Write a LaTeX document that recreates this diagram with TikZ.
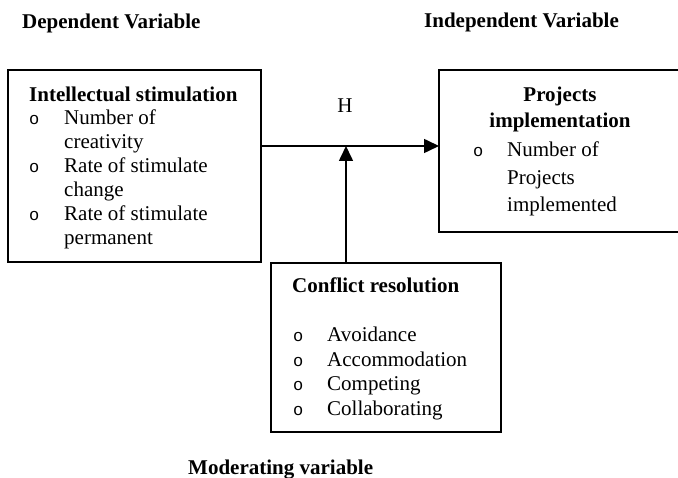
\documentclass[tikz,border=0pt]{standalone}
\usepackage{fontspec}
\setmainfont{Liberation Serif}
\newfontfamily\bulletfont{Liberation Mono}
\usetikzlibrary{arrows.meta}
\tikzset{
  box/.style={draw, line width=1.6pt, inner sep=0pt, outer sep=0pt},
  txt/.style={anchor=base west, inner sep=0pt, font=\fontsize{21}{24}\selectfont},
  btxt/.style={txt, font=\fontsize{21}{24}\selectfont\bfseries},
  bul/.style={anchor=base west, inner sep=0pt, font=\fontsize{17}{20}\bulletfont},
  arr/.style={line width=1.6pt, -{Triangle[length=15pt,width=14pt]}}
}
\begin{document}
\begin{tikzpicture}[x=1pt,y=-1pt]
\useasboundingbox (0,0) rectangle (678,478);
% headings
\node[btxt] (dep) at (22,29) {Dependent Variable};
\node[btxt] (indep) at (424,28) {Independent Variable};
\node[btxt] (mod) at (188,475) {Moderating variable};
% boxes
\node[box, minimum width=253pt, minimum height=192pt] (left) at (134.5,166) {};
\node[box, minimum width=250pt, minimum height=162pt] (right) at (564,151) {};
\node[box, minimum width=230pt, minimum height=169pt] (bottom) at (386,347.5) {};
% left box text
\node[btxt] (l0) at (29,102) {Intellectual stimulation};
\node[bul] (lb1) at (29,125) {o};
\node[txt] (l1) at (64,125) {Number of};
\node[txt] (l2) at (64,149) {creativity};
\node[bul] (lb2) at (29,173) {o};
\node[txt] (l3) at (64,173) {Rate of stimulate};
\node[txt] (l4) at (64,197) {change};
\node[bul] (lb3) at (29,221) {o};
\node[txt] (l5) at (64,221) {Rate of stimulate};
\node[txt] (l6) at (64,245) {permanent};
% right box text
\node[btxt, anchor=base] (r0) at (560,102) {Projects};
\node[btxt, anchor=base] (r1) at (560,128) {implementation};
\node[bul] (rb1) at (473,157) {o};
\node[txt] (r2) at (507,157) {Number of};
\node[txt] (r3) at (507,185) {Projects};
\node[txt] (r4) at (507,212) {implemented};
% bottom box text
\node[btxt] (b0) at (292,293) {Conflict resolution};
\node[bul] (bb1) at (293,342) {o};
\node[txt] (b1) at (327,342) {Avoidance};
\node[bul] (bb2) at (293,367) {o};
\node[txt] (b2) at (327,367) {Accommodation};
\node[bul] (bb3) at (293,391) {o};
\node[txt] (b3) at (327,391) {Competing};
\node[bul] (bb4) at (293,416) {o};
\node[txt] (b4) at (327,416) {Collaborating};
% H label and connectors
\coordinate (h) at (346,146);
\node[txt, anchor=base] (hl) at (345,113) {H};
\draw[arr] (left.east |- h) -- (right.west |- h);
\draw[arr] (bottom.north -| h) -- (h);
\end{tikzpicture}
\end{document}
